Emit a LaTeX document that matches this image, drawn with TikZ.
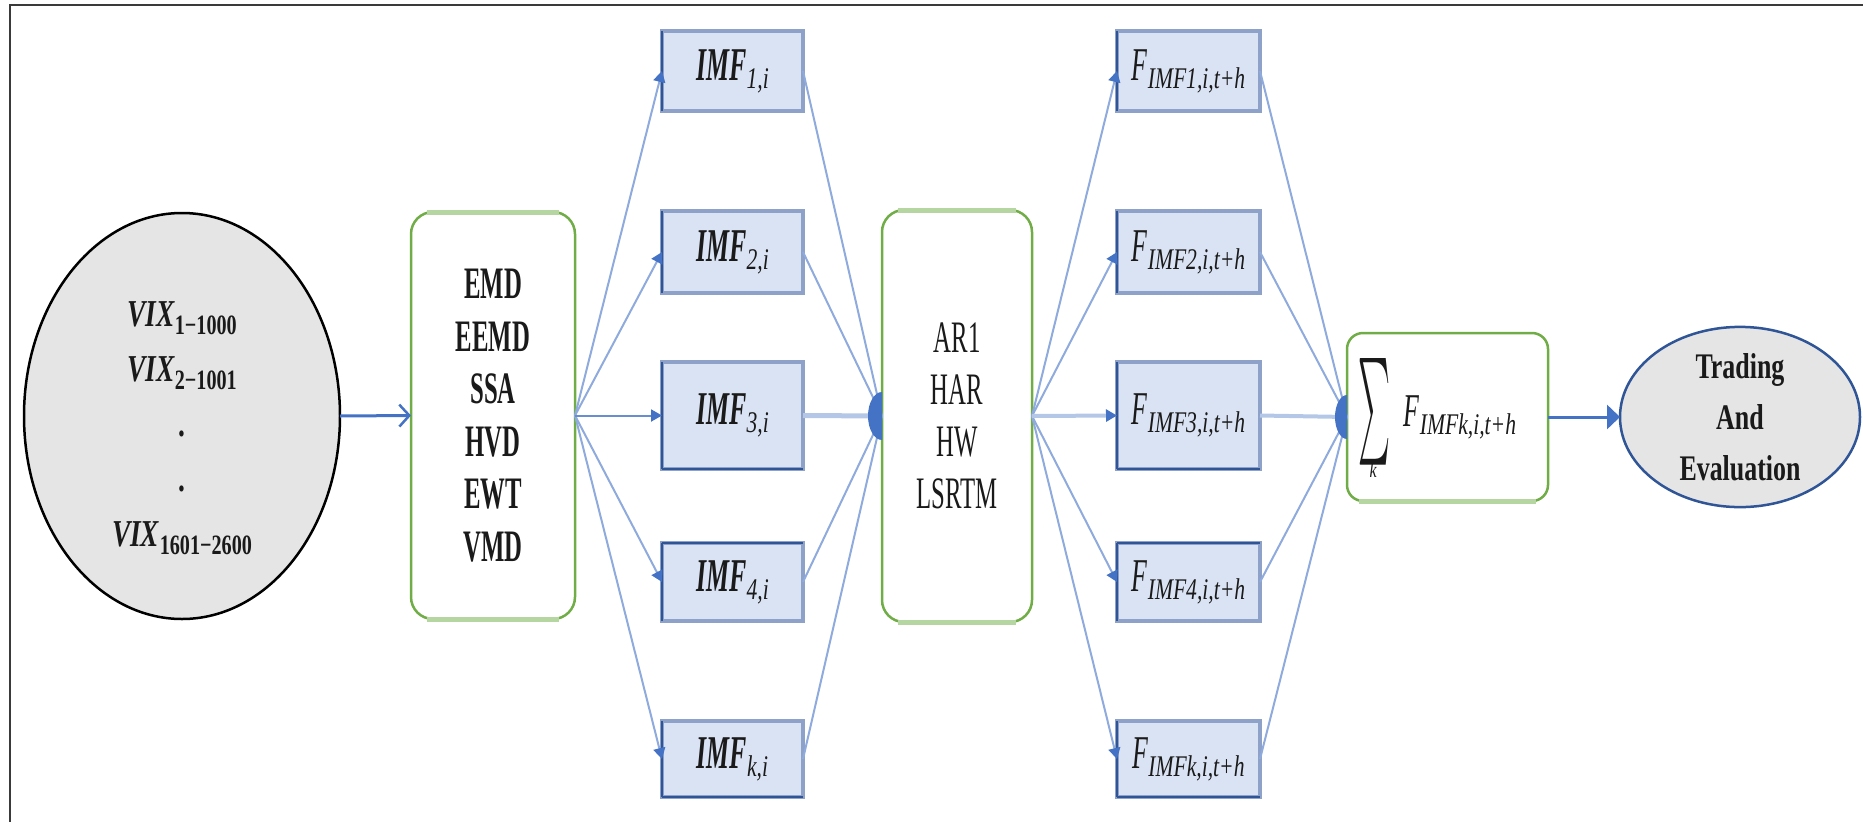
\documentclass[tikz,border=0pt]{standalone}
\usepackage{fontspec}
\setmainfont{Liberation Serif}
\newfontfamily\nfA{Liberation Serif}[FakeStretch=0.55]
\newfontfamily\nfB{Liberation Serif}[FakeStretch=0.72]
\usetikzlibrary{arrows.meta,shapes.geometric}
\definecolor{blueD}{HTML}{4472C4}
\definecolor{blueL}{HTML}{8FAADC}
\definecolor{blueLL}{HTML}{B4C7E7}
\definecolor{navy}{HTML}{2F5597}
\definecolor{imffill}{HTML}{DAE3F3}
\definecolor{imfband}{HTML}{8EA2C9}
\definecolor{grn}{HTML}{70AD47}
\definecolor{grnL}{HTML}{B5D5A1}
\definecolor{elfill}{HTML}{E5E5E5}
\definecolor{framec}{HTML}{3A3A3A}
\definecolor{txt}{HTML}{1A1A1A}
\newcommand{\dn}[2]{\raisebox{-8pt}{\nfB\fontsize{#1}{#1}\selectfont #2}}
\begin{document}
\begin{tikzpicture}[x=1pt,y=-1pt,
  every node/.style={inner sep=0pt, outer sep=0pt, text=txt},
  ellA/.style={ellipse, fill=elfill, draw=black, line width=2.5pt},
  ellB/.style={ellipse, fill=elfill, draw=navy, line width=2.5pt},
  greenbox/.style={rectangle, rounded corners=22pt, draw=grn, fill=white, line width=2.5pt},
  imfbox/.style={rectangle, fill=imffill, draw=imfband, line width=4pt, minimum width=141pt},
  fbox/.style={imfbox, minimum width=143pt},
  fan/.style={draw=blueL, line width=2pt},
  fanhead/.style={fan, -{Triangle[length=11pt,width=12pt,color=blueD]}},
  thickin/.style={draw=blueLL, line width=5pt},
  mainarrow/.style={draw=blueD, line width=3pt},
  lbl/.style={font=\nfA\fontsize{47}{47}\selectfont},
]
\useasboundingbox (0,0) rectangle (1863,822);
\draw[framec, line width=2pt] (1863,5) -- (10,5) -- (10,822);

% input ellipse
\node[ellA, minimum width=316pt, minimum height=406pt] (vix) at (182,416) {};
\node[align=center, font=\nfB\bfseries\fontsize{38}{55}\selectfont] (vixtxt) at (182,428)
  {\textit{VIX}\dn{28}{\bfseries 1−1000}\\
   \textit{VIX}\dn{28}{\bfseries 2−1001}\\
   .\\ .\\
   \textit{VIX}\dn{28}{\bfseries 1601−2600}};

% decomposition box
\node[greenbox, minimum width=164pt, minimum height=407pt, align=center,
      font=\nfA\bfseries\fontsize{45}{52.5}\selectfont] (emd) at (493,415.5)
  {EMD\\EEMD\\SSA\\HVD\\EWT\\VMD};
\draw[grnL, line width=5pt] ([xshift=16pt]emd.north west) -- ([xshift=-16pt]emd.north east);
\draw[grnL, line width=5pt] ([xshift=16pt]emd.south west) -- ([xshift=-16pt]emd.south east);

% model box
\node[greenbox, minimum width=150pt, minimum height=412pt, align=center,
      font=\nfA\fontsize{45}{52}\selectfont] (ar) at (957,416)
  {AR1\\HAR\\HW\\LSRTM};
\draw[grnL, line width=5pt] ([xshift=16pt]ar.north west) -- ([xshift=-16pt]ar.north east);
\draw[grnL, line width=5pt] ([xshift=16pt]ar.south west) -- ([xshift=-16pt]ar.south east);

% IMF boxes
\node[imfbox, minimum height=80pt, lbl] (i1) at (732.5,71) {\textbf{\textit{IMF}}\dn{30}{\itshape 1,i}};
\node[imfbox, minimum height=82pt, lbl] (i2) at (732.5,252) {\textbf{\textit{IMF}}\dn{30}{\itshape 2,i}};
\node[imfbox, minimum height=107pt, lbl] (i3) at (732.5,415.5) {\textbf{\textit{IMF}}\dn{30}{\itshape 3,i}};
\node[imfbox, minimum height=78pt, lbl] (i4) at (732.5,582) {\textbf{\textit{IMF}}\dn{30}{\itshape 4,i}};
\node[imfbox, minimum height=76pt, lbl] (i5) at (732.5,759) {\textbf{\textit{IMF}}\dn{30}{\itshape k,i}};
\foreach \b in {i1,i2,i3,i4,i5} {\draw[navy, line width=2pt] (\b.south west) -- (\b.north west);}
\draw[navy, line width=2.5pt] (i3.south west) -- (i3.south east);
\draw[navy, line width=2.5pt] (i4.north west) -- (i4.north east);
\draw[navy, line width=2.5pt] (i5.south west) -- (i5.south east);

% forecast boxes
\node[fbox, minimum height=80pt, lbl] (f1) at (1188.5,71) {\textit{F}\dn{30}{\itshape IMF1,i,t+h}};
\node[fbox, minimum height=82pt, lbl] (f2) at (1188.5,252) {\textit{F}\dn{30}{\itshape IMF2,i,t+h}};
\node[fbox, minimum height=107pt, lbl] (f3) at (1188.5,415.5) {\textit{F}\dn{30}{\itshape IMF3,i,t+h}};
\node[fbox, minimum height=78pt, lbl] (f4) at (1188.5,582) {\textit{F}\dn{30}{\itshape IMF4,i,t+h}};
\node[fbox, minimum height=76pt, lbl] (f5) at (1188.5,759) {\textit{F}\dn{30}{\itshape IMFk,i,t+h}};
\foreach \b in {f1,f2,f3,f4,f5} {\draw[navy, line width=1.5pt] (\b.south west) -- (\b.north west);}
\draw[navy, line width=2.5pt] (f3.south west) -- (f3.south east);
\draw[navy, line width=2.5pt] (f4.north west) -- (f4.north east);
\draw[navy, line width=2.5pt] (f5.south west) -- (f5.south east);

% sum box
\node[greenbox, rounded corners=16pt, minimum width=201pt, minimum height=168pt] (sum) at (1447.5,417) {};
\draw[grnL, line width=5pt] ([xshift=12pt]sum.south west) -- ([xshift=-12pt]sum.south east);
\node (sumsym) at (1374,412) {\resizebox{32pt}{80pt}{$\sum$}};
\node[font=\nfB\itshape\fontsize{22}{22}\selectfont] (sumk) at (1373,470) {k};
\node[lbl] (sumF) at (1460,417) {\textit{F}\dn{30}{\itshape IMFk,i,t+h}};

% output ellipse
\node[ellB, minimum width=240pt, minimum height=169pt, align=center,
      font=\nfB\bfseries\fontsize{36}{51}\selectfont] (trade) at (1740,417)
  {Trading\\And\\Evaluation};

% connectors
\draw[mainarrow, -{Straight Barb[length=10pt,width=22pt,line width=2.5pt]}] (vix.east) -- (emd.west);
\foreach \b in {i1,i2,i4,i5} {\draw[fanhead] (emd.east) -- (\b.west);}
\draw[fanhead, draw=blueD!80] (emd.east) -- (i3.west);
\foreach \b in {i1,i2,i4,i5} {\draw[fan] (\b.east) -- (ar.west);}
\draw[thickin] (i3.east) -- (ar.west);
\fill[blueD] (ar.west) ++(0pt,24pt) arc[start angle=90, end angle=270, x radius=14pt, y radius=24pt] -- cycle;

\foreach \b in {f1,f2,f4,f5} {\draw[fanhead] (ar.east) -- (\b.west);}
\draw[fanhead, draw=blueLL, line width=4pt] (ar.east) -- (f3.west);
\foreach \b in {f1,f2,f4,f5} {\draw[fan] (\b.east) -- (sum.west);}
\draw[thickin, line width=4pt] (f3.east) -- (sum.west);
\fill[blueD] (sum.west) ++(0pt,22pt) arc[start angle=90, end angle=270, x radius=12pt, y radius=22pt] -- cycle;

\draw[mainarrow, -{Triangle[length=13pt,width=24pt]}] (sum.east) -- (trade.west);
\end{tikzpicture}
\end{document}
